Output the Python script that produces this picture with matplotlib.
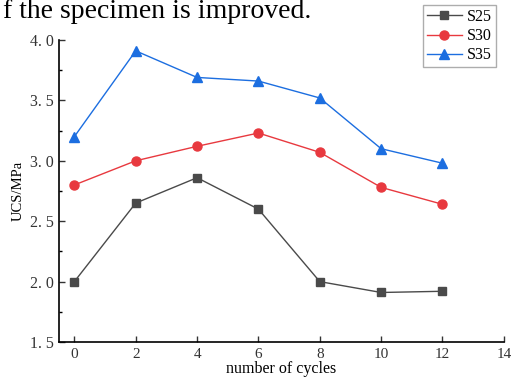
import numpy as np
from matplotlib import pyplot as plt
from matplotlib.ticker import MultipleLocator

cycles = [0, 2, 4, 6, 8, 10, 12]
s25 = [2.00, 2.65, 2.86, 2.60, 2.00, 1.91, 1.92]
s30 = [2.80, 3.00, 3.12, 3.23, 3.07, 2.78, 2.64]
s35 = [3.20, 3.91, 3.69, 3.66, 3.52, 3.10, 2.98]
yticks = [1.5, 2.0, 2.5, 3.0, 3.5, 4.0]
ytick_labels = ['1. 5', '2. 0', '2. 5', '3. 0', '3. 5', '4. 0']

plt.rcParams['font.family'] = ['Liberation Serif', 'DejaVu Serif']

fig = plt.figure(figsize=(5.11, 3.83), dpi=100)
ax = fig.add_axes([0.1155, 0.107, 0.8705, 0.7886])

ax.plot(cycles, s25, c='#4a4a4a', marker='s', ms=6, lw=1, label='S25')
ax.plot(cycles, s30, c='#e8393f', marker='o', ms=6.5, lw=1, label='S30')
ax.plot(cycles, s35, c='#1c6ee0', marker='^', ms=7, lw=1, label='S35')

ax.set_xlim(-0.5, 14)
ax.set_ylim(1.5, 4.0)
ax.set_xticks(range(0, 15, 2))
ax.set_yticks(yticks)
ax.set_yticklabels(ytick_labels)
ax.yaxis.set_minor_locator(MultipleLocator(0.25))
ax.tick_params(direction='in', length=4, width=1, labelsize=11.5, colors='#333333')
ax.tick_params(which='minor', direction='in', length=2.5, width=1)
ax.tick_params(axis='x', pad=4, labelsize=11)
for sp in ['top', 'right']:
    ax.spines[sp].set_visible(False)
for sp in ['left', 'bottom']:
    ax.spines[sp].set_linewidth(1.2)

ax.set_xlabel('number of cycles', fontsize=11.5, labelpad=0)
ax.set_ylabel('UCS/MPa', fontsize=10.5, labelpad=4)

ax.legend(loc='upper right', bbox_to_anchor=(0.982, 1.116), fontsize=11.5,
          frameon=True, fancybox=False, edgecolor='#999999', handlelength=2.2,
          borderpad=0.25, labelspacing=0.2, handletextpad=0.3, borderaxespad=0)

fig.text(0.006, 0.952, 'f the specimen is improved.', fontsize=20, va='baseline', ha='left')

plt.savefig('out.png', dpi=100)
